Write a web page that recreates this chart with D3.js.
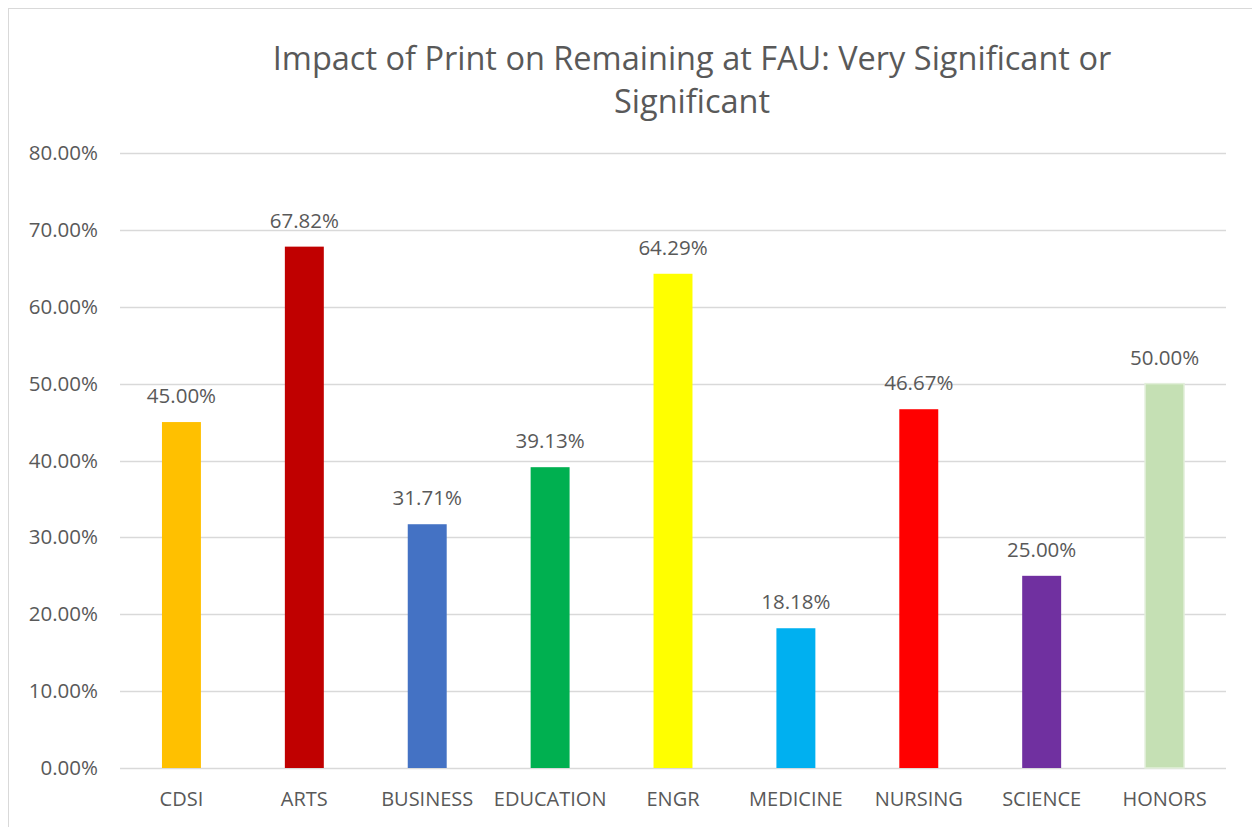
<!DOCTYPE html>
<html>
<head>
<meta charset="utf-8">
<script src="https://d3js.org/d3.v7.min.js"></script>
<style>
  body { margin: 0; background: #fff; }
  text { font-family: "Open Sans", "Noto Sans", sans-serif; fill: #595959; }
</style>
</head>
<body>
<svg id="chart" width="1252" height="827"></svg>
<script>
// chart data
const categories = ['CDSI', 'ARTS', 'BUSINESS', 'EDUCATION', 'ENGR', 'MEDICINE', 'NURSING', 'SCIENCE', 'HONORS'];
const values = [0.45, 0.6782, 0.3171, 0.3913, 0.6429, 0.1818, 0.4667, 0.25, 0.50];
const barColors = ['#FFC000', '#C00000', '#4472C4', '#00B050', '#FFFF00', '#00B0F0', '#FF0000', '#7030A0', '#C5E0B4'];
const yTicks = [0, 0.1, 0.2, 0.3, 0.4, 0.5, 0.6, 0.7, 0.8];
const titleLines = ['Impact of Print on Remaining at FAU: Very Significant or', 'Significant'];

const svg = d3.select('#chart');

// outer chart border
svg.append('rect')
  .attr('x', 8.5).attr('y', 8.5)
  .attr('width', 1260).attr('height', 830)
  .attr('fill', 'none').attr('stroke', '#d9d9d9');

const plot = {left: 120, right: 1226, top: 153, bottom: 768};

const x = d3.scaleBand().domain(categories).range([plot.left, plot.right]).paddingInner(0.683).paddingOuter(0.3415);
const y = d3.scaleLinear().domain([0, 0.8]).range([plot.bottom, plot.top]);
const pct = d3.format('.2%');

// title
svg.append('g').selectAll('text').data(titleLines).join('text')
  .attr('x', 692).attr('y', (d, i) => 70 + i * 43)
  .attr('text-anchor', 'middle')
  .style('font-size', '32.5px')
  .text(d => d);

// gridlines
svg.append('g').selectAll('line').data(yTicks).join('line')
  .attr('x1', plot.left).attr('x2', plot.right)
  .attr('y1', d => Math.round(y(d)) + 0.5).attr('y2', d => Math.round(y(d)) + 0.5)
  .attr('stroke', '#d9d9d9').attr('stroke-width', 1.5);

// y axis labels
const yAxis = svg.append('g').attr('transform', `translate(${plot.left},0)`)
  .call(d3.axisLeft(y).tickValues(yTicks).tickFormat(pct).tickSize(0).tickPadding(22));
yAxis.select('.domain').remove();
yAxis.selectAll('text').style('font-size', '20.5px').attr('font-family', null).attr('fill', '#595959');

// bars
svg.append('g').selectAll('rect').data(categories).join('rect')
  .attr('x', d => x(d)).attr('width', x.bandwidth())
  .attr('y', (d, i) => y(values[i])).attr('height', (d, i) => y(0) - y(values[i]))
  .attr('fill', (d, i) => barColors[i])
  .attr('stroke', (d, i) => d === 'HONORS' ? '#e2efda' : 'none')
  .attr('stroke-width', 1.5);

// data labels
svg.append('g').selectAll('text').data(categories).join('text')
  .attr('x', d => x(d) + x.bandwidth() / 2)
  .attr('y', (d, i) => y(values[i]) - 19)
  .attr('text-anchor', 'middle')
  .style('font-size', '20.5px')
  .text((d, i) => pct(values[i]));

// x axis labels
const xAxis = svg.append('g').attr('transform', `translate(0,${plot.bottom})`)
  .call(d3.axisBottom(x).tickSize(0).tickPadding(24));
xAxis.select('.domain').remove();
xAxis.selectAll('text').style('font-size', '20px').attr('font-family', null).attr('fill', '#595959');
</script>
</body>
</html>
